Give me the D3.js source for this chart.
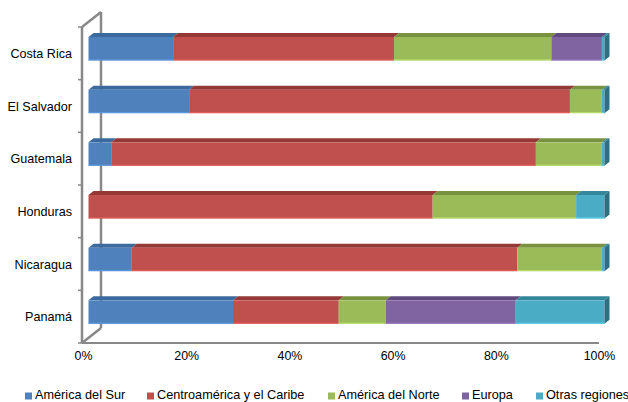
<!DOCTYPE html>
<html>
<head>
<meta charset="utf-8">
<script src="https://cdnjs.cloudflare.com/ajax/libs/d3/7.8.5/d3.min.js"></script>
<style>
  html, body { margin: 0; padding: 0; background: #fff; }
  svg { display: block; font-family: "Liberation Sans", Arial, sans-serif; }
</style>
</head>
<body>
<svg id="chart" width="628" height="402"></svg>
<script>
// Shares of exports by destination region (%)
const categories = ["Costa Rica", "El Salvador", "Guatemala", "Honduras", "Nicaragua", "Panamá"];
const seriesNames = ["América del Sur", "Centroamérica y el Caribe", "América del Norte", "Europa", "Otras regiones"];
const americaSur    = [16.4, 19.5,  4.4,  0.0,  8.4, 28.0];
const centroamerica = [42.8, 73.8, 82.3, 66.7, 74.7, 20.5];
const americaNorte  = [30.5,  6.2, 12.8, 27.8, 16.4,  9.1];
const europa        = [ 9.8,  0.0,  0.0,  0.0,  0.0, 25.2];
const otras         = [ 0.5,  0.5,  0.5,  5.5,  0.5, 17.2];
const xTickValues = [0, 0.2, 0.4, 0.6, 0.8, 1];

const frontColors = ["#4F81BD", "#C0504D", "#9BBB59", "#8064A2", "#4BACC6"];
const topColors   = ["#3C6A9E", "#943936", "#78923F", "#614B7E", "#35879C"];
const sideColors  = ["#30578A", "#7E302E", "#647A35", "#50406A", "#2C7082"];

const seriesValues = [americaSur, centroamerica, americaNorte, europa, otras];
const rows = categories.map((c, i) => {
  const r = { cat: c };
  seriesNames.forEach((s, k) => { r[s] = seriesValues[k][i]; });
  return r;
});

const svg = d3.select("#chart");
const fontFamily = "'Liberation Sans', Arial, sans-serif";

// plot geometry (front plane of the 3D box)
const plotLeft = 83, plotRight = 599, plotTop = 27, plotBottom = 343;
const wallDx = 18, wallDy = 15;     // depth of the box walls
const barDx = 5, barDy = 4;         // depth of each bar
const barShift = 5.5;               // bars sit slightly behind the front plane

const x = d3.scaleLinear().domain([0, 1]).range([plotLeft, plotRight]);
const y = d3.scaleBand().domain(categories).range([plotTop, plotBottom]).paddingInner(0).paddingOuter(0);

const stacked = d3.stack().keys(seriesNames).offset(d3.stackOffsetExpand)(rows);

const wallColor = "#888888";

// back wall edge (behind the bars)
svg.append("line")
  .attr("x1", plotLeft + wallDx).attr("x2", plotLeft + wallDx)
  .attr("y1", plotTop - wallDy).attr("y2", plotBottom - wallDy)
  .attr("stroke", wallColor).attr("stroke-width", 2.5);

// bars
const barH = 23.5;
const g = svg.append("g");
categories.forEach((cat, ci) => {
  const segs = stacked.map((s, k) => ({ k, x0: s[ci][0], x1: s[ci][1] })).filter(d => d.x1 - d.x0 > 1e-6);
  const yTop = y(cat) + 10;
  const yBot = yTop + barH;
  const last = segs[segs.length - 1];
  segs.forEach(d => {
    const X0 = x(d.x0) + barShift, X1 = x(d.x1) + barShift;
    // top face
    g.append("polygon")
      .attr("points", [[X0, yTop], [X1, yTop], [X1 + barDx, yTop - barDy], [X0 + barDx, yTop - barDy]].map(p => p.join(",")).join(" "))
      .attr("fill", topColors[d.k]);
    // front face
    g.append("rect")
      .attr("x", X0).attr("y", yTop)
      .attr("width", X1 - X0).attr("height", barH)
      .attr("fill", frontColors[d.k]);
    // soft lighter bottom edge
    g.append("rect")
      .attr("x", X0).attr("y", yBot - 1.2)
      .attr("width", X1 - X0).attr("height", 1.2)
      .attr("fill", d3.color(frontColors[d.k]).brighter(0.6))
      .attr("opacity", 0.7);
  });
  // right side face of the stack end
  const XE = x(last.x1) + barShift;
  g.append("polygon")
    .attr("points", [[XE, yTop], [XE + barDx, yTop - barDy], [XE + barDx, yBot - barDy], [XE, yBot]].map(p => p.join(",")).join(" "))
    .attr("fill", sideColors[last.k]);
});

// left wall front edge and depth edges
svg.append("line")
  .attr("x1", plotLeft - 1).attr("x2", plotLeft - 1).attr("y1", plotTop).attr("y2", plotBottom)
  .attr("stroke", wallColor).attr("stroke-width", 2.5);
svg.append("line")
  .attr("x1", plotLeft - 1).attr("y1", plotTop).attr("x2", plotLeft + wallDx).attr("y2", plotTop - wallDy)
  .attr("stroke", wallColor).attr("stroke-width", 2.5);
svg.append("line")
  .attr("x1", plotLeft - 1).attr("y1", plotBottom).attr("x2", plotLeft + wallDx).attr("y2", plotBottom - wallDy)
  .attr("stroke", wallColor).attr("stroke-width", 2.5);

// category ticks on the wall edge
const bounds = categories.map(c => y(c)).concat([plotBottom]);
svg.selectAll("line.ctick").data(bounds).enter().append("line")
  .attr("class", "ctick")
  .attr("x1", plotLeft - 5).attr("x2", plotLeft - 1)
  .attr("y1", d => d).attr("y2", d => d)
  .attr("stroke", wallColor).attr("stroke-width", 1.5);

// category labels
svg.selectAll("text.cat").data(categories).enter().append("text")
  .attr("class", "cat")
  .attr("x", 72)
  .attr("y", d => y(d) + y.bandwidth() / 2 + 1.5)
  .attr("text-anchor", "end")
  .attr("dominant-baseline", "middle")
  .attr("font-family", fontFamily)
  .attr("font-size", 12.6)
  .attr("fill", "#000")
  .text(d => d);

// value axis along the floor front edge
const xAxis = d3.axisBottom(x).tickValues(xTickValues).tickFormat(d3.format(".0%")).tickSize(0).tickPadding(8);
const ax = svg.append("g").attr("transform", `translate(0,${plotBottom})`).call(xAxis);
ax.select(".domain").attr("stroke", wallColor).attr("stroke-width", 2).attr("d", `M${plotLeft - 1},0H${plotRight}`);
ax.selectAll("text").attr("font-size", 12.4).attr("fill", "#000").attr("font-family", fontFamily);

// legend
const legendX = [25, 147, 328, 462, 536];
const lg = svg.append("g").attr("transform", "translate(0,396)");
seriesNames.forEach((s, k) => {
  lg.append("rect").attr("x", legendX[k]).attr("y", -3.5).attr("width", 7).attr("height", 7).attr("fill", frontColors[k]);
  lg.append("text").attr("x", legendX[k] + 10).attr("y", 0)
    .attr("dominant-baseline", "middle").attr("font-family", fontFamily)
    .attr("font-size", 12.7).attr("fill", "#000").text(s);
});
</script>
</body>
</html>
